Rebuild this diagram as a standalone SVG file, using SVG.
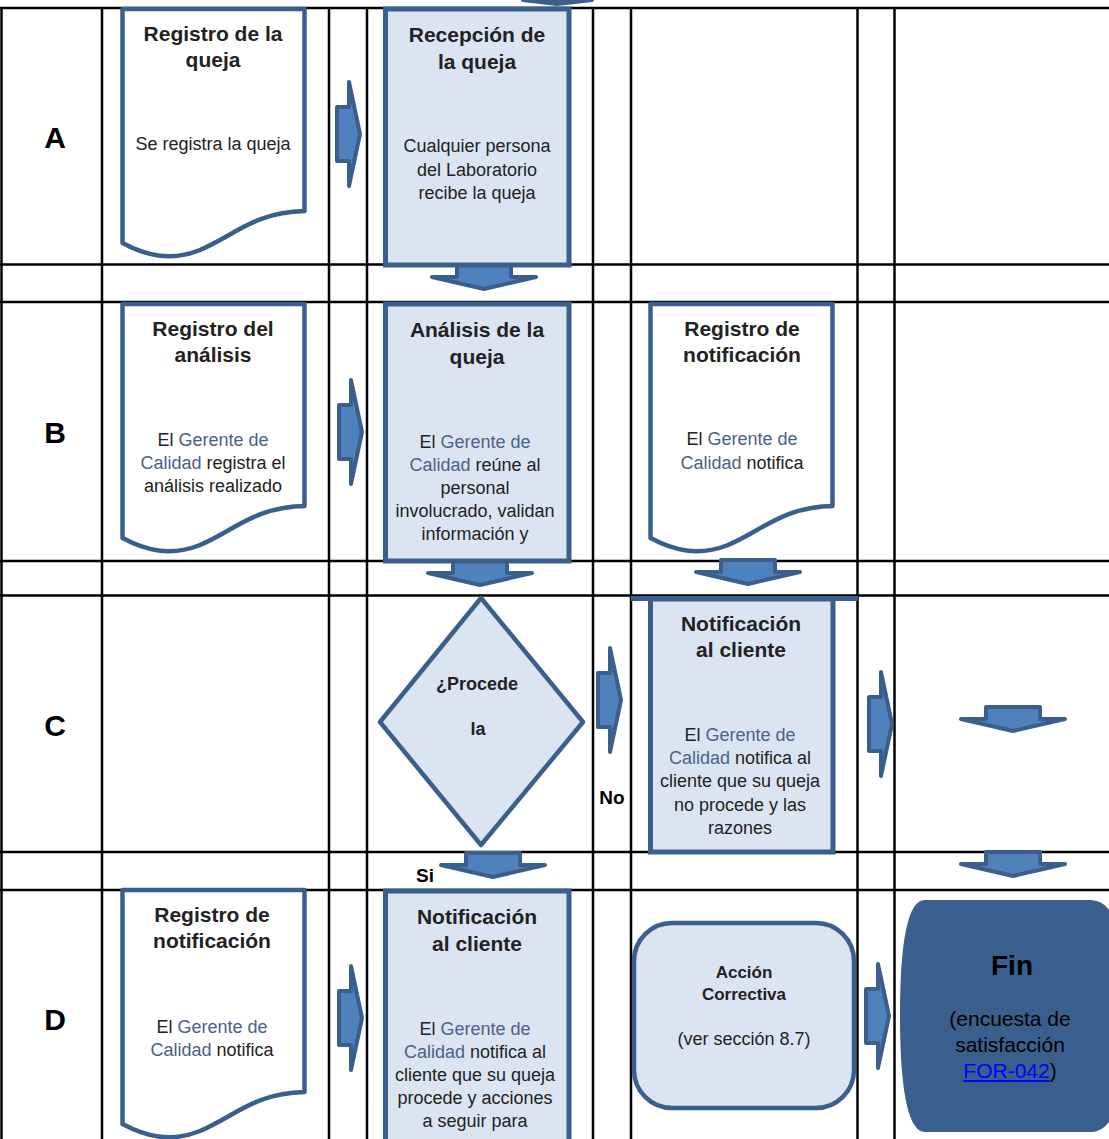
<svg xmlns="http://www.w3.org/2000/svg" width="1109" height="1139" viewBox="0 0 1109 1139">
<style>
.grid{stroke:#000;stroke-width:2.5;fill:none}
.doc{fill:#fff;stroke:#3a5f8c;stroke-width:4.5;stroke-linejoin:round}
.proc{fill:#dbe5f1;stroke:#3a5f8c;stroke-width:5}
.arr{fill:#4f81bd;stroke:#3a5f8c;stroke-width:4;stroke-linejoin:round}
text{font-family:"Liberation Sans",Arial,sans-serif;fill:#222;text-anchor:middle}
.t{font-size:21px;font-weight:bold}
.b{font-size:18px}
.lbl{font-size:30px;font-weight:bold;fill:#000}
.g{fill:#4a6287}
</style>
<defs>
<path id="ra" d="M0,-27 H12 V-52 L23,0 L12,52 V27 H0 Z"/>
<path id="da" d="M-27,0 H27 V12 H52 L0,24 L-52,12 H-27 Z"/>
<path id="docA" d="M122.5,9 H304.5 V211 C255,212 235,235 200,250 C170,262 145,255 122.5,243 Z"/>
</defs>
<rect width="1109" height="1139" fill="#fff"/>
<g id="grid" class="grid">
<line x1="0" y1="8" x2="1109" y2="8"/>
<line x1="0" y1="264.5" x2="1109" y2="264.5"/>
<line x1="0" y1="302" x2="1109" y2="302"/>
<line x1="0" y1="561" x2="1109" y2="561"/>
<line x1="0" y1="595.5" x2="1109" y2="595.5"/>
<line x1="0" y1="852" x2="1109" y2="852"/>
<line x1="0" y1="890" x2="1109" y2="890"/>
<line x1="1.5" y1="8" x2="1.5" y2="1139"/>
<line x1="102" y1="8" x2="102" y2="1139"/>
<line x1="329" y1="8" x2="329" y2="1139"/>
<line x1="367" y1="8" x2="367" y2="1139"/>
<line x1="593" y1="8" x2="593" y2="1139"/>
<line x1="631" y1="8" x2="631" y2="1139"/>
<line x1="857.5" y1="8" x2="857.5" y2="1139"/>
<line x1="894.5" y1="8" x2="894.5" y2="1139"/>
</g>
<g id="labels">
<text class="lbl" x="55" y="148">A</text>
<text class="lbl" x="55" y="443">B</text>
<text class="lbl" x="55" y="736">C</text>
<text class="lbl" x="55" y="1030">D</text>
</g>
<g id="connectors">
<path class="arr" d="M523,0 H592 L557,4 Z"/>
<use href="#ra" class="arr" transform="translate(337,134)"/>
<use href="#ra" class="arr" transform="translate(339,432)"/>
<use href="#ra" class="arr" transform="translate(598,700)"/>
<use href="#ra" class="arr" transform="translate(869,724)"/>
<use href="#ra" class="arr" transform="translate(339,1018)"/>
<use href="#ra" class="arr" transform="translate(866,1016)"/>
<use href="#da" class="arr" transform="translate(484,265)"/>
<use href="#da" class="arr" transform="translate(480,561)"/>
<use href="#da" class="arr" transform="translate(748,560)"/>
<use href="#da" class="arr" transform="translate(493,853)"/>
<use href="#da" class="arr" transform="translate(1013,707)"/>
<use href="#da" class="arr" transform="translate(1013,852)"/>
<text class="t" x="425" y="882" style="font-size:19px;fill:#000">Si</text>
<text class="t" x="612" y="804" style="font-size:19px;fill:#000">No</text>
</g>
<g id="regA1">
<use href="#docA" class="doc"/>
<text class="t" x="213" y="41">Registro de la</text>
<text class="t" x="213" y="67">queja</text>
<text class="b" x="213" y="150">Se registra la queja</text>
</g>
<g id="recepcion">
<rect class="proc" x="385.5" y="9" width="183.5" height="256"/>
<text class="t" x="477" y="42">Recepción de</text>
<text class="t" x="477" y="69">la queja</text>
<text class="b" x="477" y="152">Cualquier persona</text>
<text class="b" x="477" y="176">del Laboratorio</text>
<text class="b" x="477" y="199">recibe la queja</text>
</g>
<g id="regB1">
<use href="#docA" class="doc" transform="translate(0,295)"/>
<text class="t" x="213" y="336">Registro del</text>
<text class="t" x="213" y="362">análisis</text>
<text class="b" x="213" y="446">El <tspan class="g">Gerente de</tspan></text>
<text class="b" x="213" y="469"><tspan class="g">Calidad</tspan> registra el</text>
<text class="b" x="213" y="492">análisis realizado</text>
</g>
<g id="analisis">
<rect class="proc" x="385.5" y="304" width="183.5" height="257"/>
<text class="t" x="477" y="337">Análisis de la</text>
<text class="t" x="477" y="364">queja</text>
<text class="b" x="475" y="448">El <tspan class="g">Gerente de</tspan></text>
<text class="b" x="475" y="471"><tspan class="g">Calidad</tspan> reúne al</text>
<text class="b" x="475" y="494">personal</text>
<text class="b" x="475" y="517">involucrado, validan</text>
<text class="b" x="475" y="540">información y</text>
</g>
<g id="regB3">
<use href="#docA" class="doc" transform="translate(528,295)"/>
<text class="t" x="742" y="336">Registro de</text>
<text class="t" x="742" y="362">notificación</text>
<text class="b" x="742" y="445">El <tspan class="g">Gerente de</tspan></text>
<text class="b" x="742" y="469"><tspan class="g">Calidad</tspan> notifica</text>
</g>
<g id="decision">
<polygon points="481,598 583,722 481,845 380,722" fill="#dbe5f1" stroke="#3a5f8c" stroke-width="4.5" stroke-linejoin="round"/>
<text class="t" x="477" y="690" style="font-size:18px">¿Procede</text>
<text class="t" x="478" y="735" style="font-size:18px">la</text>
</g>
<g id="notifNo">
<rect class="proc" x="650.5" y="599" width="182.5" height="253"/>
<line x1="631" y1="598.5" x2="858" y2="598.5" stroke="#3a5f8c" stroke-width="5"/>
<text class="t" x="741" y="631">Notificación</text>
<text class="t" x="741" y="657">al cliente</text>
<text class="b" x="740" y="741">El <tspan class="g">Gerente de</tspan></text>
<text class="b" x="740" y="764"><tspan class="g">Calidad</tspan> notifica al</text>
<text class="b" x="740" y="787">cliente que su queja</text>
<text class="b" x="740" y="811">no procede y las</text>
<text class="b" x="740" y="834">razones</text>
</g>
<g id="regD1">
<use href="#docA" class="doc" transform="translate(0,881)"/>
<text class="t" x="212" y="922">Registro de</text>
<text class="t" x="212" y="948">notificación</text>
<text class="b" x="212" y="1033">El <tspan class="g">Gerente de</tspan></text>
<text class="b" x="212" y="1056"><tspan class="g">Calidad</tspan> notifica</text>
</g>
<g id="notifSi">
<rect class="proc" x="385.5" y="891" width="183.5" height="256"/>
<text class="t" x="477" y="924">Notificación</text>
<text class="t" x="477" y="951">al cliente</text>
<text class="b" x="475" y="1035">El <tspan class="g">Gerente de</tspan></text>
<text class="b" x="475" y="1058"><tspan class="g">Calidad</tspan> notifica al</text>
<text class="b" x="475" y="1081">cliente que su queja</text>
<text class="b" x="475" y="1104">procede y acciones</text>
<text class="b" x="475" y="1127">a seguir para</text>
</g>
<g id="accion">
<rect x="634" y="923" width="220" height="185" rx="38" fill="#dbe5f1" stroke="#3a5f8c" stroke-width="4.5"/>
<text class="t" x="744" y="978" style="font-size:17px">Acción</text>
<text class="t" x="744" y="1000" style="font-size:17px">Correctiva</text>
<text class="b" x="744" y="1045">(ver sección 8.7)</text>
</g>
<g id="fin">
<path d="M925,900 H1090 C1120,900 1126,950 1126,1015 C1126,1080 1120,1132 1090,1132 H925 C906,1132 900,1080 900,1015 C900,950 906,900 925,900 Z" fill="#3a5f8c"/>
<text x="1012" y="975" style="font-size:28px;font-weight:bold;fill:#000">Fin</text>
<text x="1010" y="1026" style="font-size:21px;fill:#000">(encuesta de</text>
<text x="1010" y="1052" style="font-size:21px;fill:#000">satisfacción</text>
<text x="1010" y="1078" style="font-size:21px;fill:#000"><tspan fill="#0000ff" text-decoration="underline">FOR-042</tspan>)</text>
</g>
</svg>
